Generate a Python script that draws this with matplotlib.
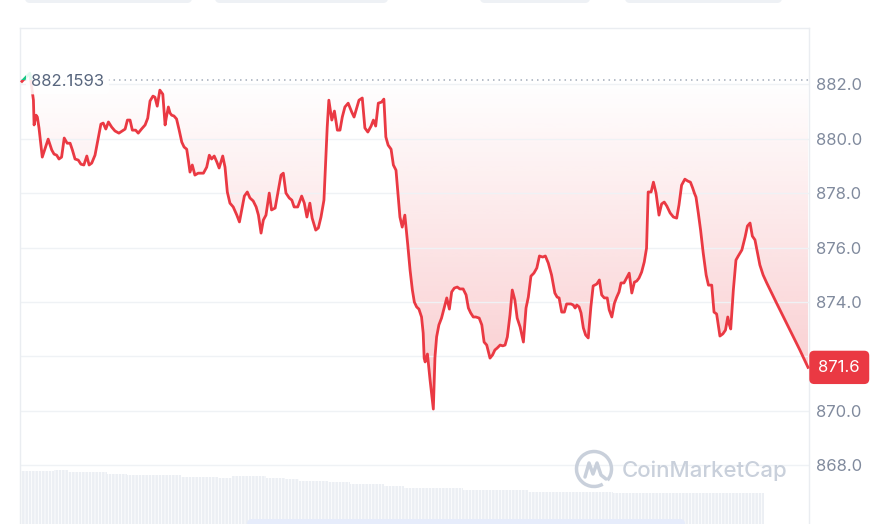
import numpy as np
import matplotlib.pyplot as plt
from matplotlib.colors import to_rgb
from matplotlib.patches import FancyBboxPatch, Rectangle, Arc, Polygon
from matplotlib.transforms import IdentityTransform

plt.rcParams['font.family'] = ['Inter', 'DejaVu Sans']

# price trace over the day (hours since open)
hours = [0.00, 0.24, 0.35, 0.37, 0.43, 0.47, 0.52, 0.62, 0.72, 0.80,
         0.91, 0.98, 1.06, 1.13, 1.21, 1.29, 1.38, 1.47, 1.54, 1.62,
         1.72, 1.80, 1.89, 1.98, 2.05, 2.13, 2.23, 2.33, 2.41, 2.48,
         2.56, 2.64, 2.74, 2.84, 2.96, 3.06, 3.15, 3.22, 3.30, 3.37,
         3.47, 3.55, 3.65, 3.76, 3.84, 3.91, 4.00, 4.06, 4.13, 4.21,
         4.30, 4.37, 4.41, 4.47, 4.52, 4.57, 4.64, 4.72, 4.80, 4.88,
         4.95, 5.03, 5.08, 5.13, 5.20, 5.28, 5.38, 5.54, 5.64, 5.72,
         5.79, 5.87, 5.95, 6.02, 6.13, 6.20, 6.27, 6.35, 6.45, 6.56,
         6.64, 6.71, 6.79, 6.88, 6.96, 7.06, 7.15, 7.22, 7.30, 7.37,
         7.45, 7.55, 7.62, 7.73, 7.83, 7.91, 7.98, 8.06, 8.16, 8.24,
         8.31, 8.42, 8.54, 8.62, 8.70, 8.79, 8.86, 8.97, 9.05, 9.13,
         9.22, 9.27, 9.32, 9.37, 9.46, 9.54, 9.63, 9.71, 9.78, 9.86,
         9.96, 10.07, 10.14, 10.22, 10.29, 10.39, 10.47, 10.56, 10.66, 10.73,
         10.80, 10.88, 10.98, 11.05, 11.11, 11.18, 11.27, 11.34, 11.42, 11.47,
         11.54, 11.61, 11.69, 11.78, 11.85, 11.92, 11.98, 12.05, 12.12, 12.20,
         12.25, 12.28, 12.31, 12.38, 12.46, 12.56, 12.61, 12.66, 12.73, 12.81,
         12.89, 12.97, 13.05, 13.12, 13.20, 13.29, 13.37, 13.47, 13.56, 13.63,
         13.70, 13.78, 13.86, 13.96, 14.04, 14.11, 14.19, 14.29, 14.37, 14.44,
         14.51, 14.60, 14.68, 14.75, 14.82, 14.90, 14.97, 15.05, 15.12, 15.21,
         15.31, 15.39, 15.46, 15.54, 15.63, 15.72, 15.80, 15.90, 15.98, 16.07,
         16.17, 16.27, 16.34, 16.40, 16.48, 16.56, 16.63, 16.76, 16.83, 16.89,
         16.94, 17.01, 17.07, 17.14, 17.21, 17.29, 17.37, 17.44, 17.55, 17.63,
         17.70, 17.78, 17.87, 17.93, 18.01, 18.09, 18.16, 18.23, 18.29, 18.38,
         18.46, 18.54, 18.62, 18.70, 18.77, 18.84, 18.92, 19.00, 19.07, 19.12,
         19.21, 19.28, 19.36, 19.45, 19.53, 19.61, 19.69, 19.79, 19.89, 19.99,
         20.06, 20.14, 20.24, 20.33, 20.41, 20.48, 20.53, 20.58, 20.65, 20.72,
         20.80, 20.89, 20.96, 21.06, 21.13, 21.21, 21.26, 21.31, 21.40, 21.48,
         21.55, 21.60, 21.64, 21.72, 21.80, 21.87, 21.98, 22.08, 22.15, 22.23,
         22.30, 22.38, 22.46, 22.53, 22.63, 22.74, 23.04, 23.45, 23.75, 24.00]
price = [882.10, 882.40, 881.41, 880.50, 880.86, 880.79, 880.39, 879.32, 879.69, 879.98,
         879.58, 879.43, 879.39, 879.25, 879.32, 880.02, 879.83, 879.83, 879.58, 879.25,
         879.21, 879.06, 879.03, 879.36, 879.03, 879.10, 879.39, 880.02, 880.53, 880.57,
         880.35, 880.61, 880.42, 880.28, 880.20, 880.28, 880.35, 880.68, 880.68, 880.31,
         880.31, 880.20, 880.35, 880.50, 880.75, 881.38, 881.56, 881.52, 881.19, 881.78,
         881.63, 880.50, 880.79, 881.16, 880.94, 880.86, 880.83, 880.72, 880.31, 879.87,
         879.69, 879.61, 879.21, 878.77, 879.03, 878.66, 878.73, 878.73, 878.95, 879.39,
         879.25, 879.36, 879.14, 878.92, 879.36, 878.95, 878.04, 877.63, 877.49, 877.19,
         876.94, 877.38, 877.89, 878.04, 877.82, 877.71, 877.49, 877.19, 876.53, 877.01,
         877.19, 878.00, 877.38, 877.45, 878.11, 878.66, 878.73, 878.00, 877.82, 877.74,
         877.49, 877.49, 877.89, 877.63, 877.12, 877.63, 877.08, 876.64, 876.72, 877.12,
         877.74, 879.10, 880.42, 881.41, 880.68, 881.01, 880.31, 880.31, 880.79, 881.16,
         881.30, 880.97, 880.79, 881.12, 881.41, 881.49, 880.39, 880.24, 880.46, 880.68,
         880.46, 881.30, 881.34, 881.45, 880.06, 879.76, 879.61, 879.03, 878.84, 878.11,
         877.12, 876.75, 877.19, 876.09, 875.17, 874.44, 874.00, 873.82, 873.74, 873.45,
         872.86, 871.94, 871.80, 872.09, 871.14, 870.07, 871.98, 872.72, 873.16, 873.41,
         873.78, 874.15, 873.74, 874.37, 874.51, 874.55, 874.48, 874.48, 874.26, 873.78,
         873.60, 873.45, 873.45, 873.41, 873.16, 872.53, 872.42, 871.94, 872.06, 872.24,
         872.31, 872.42, 872.39, 872.42, 872.72, 873.52, 874.44, 874.07, 873.41, 873.08,
         872.53, 873.78, 874.18, 874.95, 875.06, 875.25, 875.69, 875.65, 875.69, 875.43,
         874.99, 874.33, 874.18, 874.15, 873.63, 873.63, 873.93, 873.93, 873.89, 873.78,
         873.89, 873.82, 873.60, 873.05, 872.79, 872.68, 873.82, 874.59, 874.66, 874.81,
         874.26, 874.15, 874.15, 873.71, 873.45, 873.96, 874.18, 874.37, 874.70, 874.70,
         874.88, 875.06, 874.33, 874.73, 874.77, 874.88, 875.10, 875.47, 875.98, 878.04,
         878.04, 878.40, 878.00, 877.19, 877.60, 877.67, 877.52, 877.27, 877.12, 877.08,
         877.56, 878.29, 878.51, 878.44, 878.40, 878.18, 878.00, 877.85, 877.27, 876.64,
         875.80, 874.99, 874.62, 874.62, 873.63, 873.56, 873.16, 872.75, 872.83, 872.97,
         873.45, 873.16, 873.01, 874.44, 875.54, 875.69, 875.91, 876.39, 876.79, 876.90,
         876.42, 876.28, 875.80, 875.36, 874.99, 874.70, 873.96, 872.97, 872.24, 871.60]
assert len(hours) == len(price)

open_price = 882.1593
last_price = 871.6
y_ticks = [868, 870, 872, 874, 876, 878, 880, 882]
hidden_tick = 872  # sits under the last-price tag

# volume (relative), one value per block of bars
vol_edges = [-0.06, 0.98, 1.40, 2.60, 3.21, 4.86, 5.98, 6.41, 7.45, 8.03,
             8.46, 9.34, 10.02, 11.05, 11.66, 13.47, 15.45, 18.05, 22.66]
vol_values = [82.4, 84.0, 81.4, 78.7, 76.1, 73.4, 71.8, 74.5, 71.8,
              69.7, 67.1, 65.5, 61.8, 59.1, 55.9, 53.3, 50.6, 48.0]

RED = "#ea3943"
GREEN = "#16c784"
GRID = "#eff2f5"
LABEL = "#808a9d"

W, H = 884, 524
fig = plt.figure(figsize=(W / 100, H / 100), dpi=100)


def px_rect(x0, y0, x1, y1):
    return [x0 / W, 1 - y1 / H, (x1 - x0) / W, (y1 - y0) / H]


# volume strip at the bottom
axv = fig.add_axes(px_rect(20, 460, 809, 524))
plt.rcParams['hatch.linewidth'] = 0.6
axv.bar(vol_edges[:-1], vol_values, width=np.diff(vol_edges), align="edge",
        color="#eceff4", edgecolor="white", linewidth=0, hatch="|||||")
axv.set_xlim(-0.06, 24.03)
axv.set_ylim(0, 100)
axv.axis("off")

# price axes
ax = fig.add_axes(px_rect(20, 28, 809, 524))
ax.set_facecolor("none")

t = np.array(hours)
p = np.array(price)

# pink gradient between the line and the open price
verts = np.vstack([np.column_stack([t, p]),
                   np.column_stack([t[::-1], np.full(len(t), open_price)])])
clip = Polygon(verts, closed=True, transform=ax.transData, fc="none", ec="none")
n = 256
rgba = np.zeros((n, 1, 4))
rgba[..., :3] = to_rgb(RED)
rgba[:, 0, 3] = np.linspace(0.27, 0.0, n)
im = ax.imshow(rgba, extent=[0, 24, 870, open_price], origin="lower",
               aspect="auto", zorder=1, interpolation="bilinear")
im.set_clip_path(clip)

ax.axhline(open_price, color="#a3acbb", lw=1.1, ls=(0, (1, 2.6)), zorder=2)

above = Rectangle((-1, open_price), 30, 10, transform=ax.transData)
below = Rectangle((-1, open_price - 30), 30, 30, transform=ax.transData)
ln_r, = ax.plot(t, p, color=RED, lw=2.0, zorder=3, solid_joinstyle="round")
ln_g, = ax.plot(t, p, color=GREEN, lw=2.0, zorder=3, solid_joinstyle="round")
ln_r.set_clip_path(below)
ln_g.set_clip_path(above)

ax.set_xlim(-0.06, 24.03)
ax.set_ylim(865.85, 884.06)
ax.set_yticks(y_ticks)
ax.set_yticklabels(["" if v == hidden_tick else f"{v:.1f}" for v in y_ticks])
ax.yaxis.tick_right()
ax.tick_params(axis="y", length=0, pad=5, labelcolor=LABEL, labelsize=12)
ax.set_xticks([])
ax.grid(axis="y", color=GRID, lw=1, zorder=0)
for side in ["top", "left", "right"]:
    ax.spines[side].set_color("#eaedf1")
    ax.spines[side].set_linewidth(1)
ax.spines["bottom"].set_visible(False)

# open price label
ax.annotate("882.1593", xy=(0, open_price), xytext=(6.5, -1.5),
            textcoords="offset points", va="center", ha="left",
            color="#58667e", fontsize=12, zorder=5,
            bbox=dict(boxstyle="round,pad=0.3", fc="white", ec="none", alpha=0.88))

# last price tag
ax.annotate(f"{last_price:.1f}", xy=(1, last_price),
            xycoords=("axes fraction", "data"), xytext=(6.8, 0),
            textcoords="offset points", va="center", ha="left",
            color="white", fontsize=12, annotation_clip=False, zorder=6,
            bbox=dict(boxstyle="round,pad=0.55,rounding_size=0.3", fc=RED, ec="none"))

# watermark
wm = "#c9d0db"
fig.text(622 / W, 1 - 471 / H, "CoinMarketCap", color=wm, fontsize=16,
         fontweight="medium", va="center", ha="left")
cx, cy = 594, H - 469
fig.add_artist(Arc((cx, cy), 35, 35, theta1=-40, theta2=300, lw=2.5,
                   color=wm, transform=IdentityTransform()))
fig.add_artist(plt.Line2D([cx - 9, cx - 5, cx - 1, cx + 3, cx + 7, cx + 12],
                          [cy - 8, cy + 6, cy - 5, cy + 6, cy - 6, cy - 10],
                          lw=2.5, color=wm, solid_joinstyle="round",
                          solid_capstyle="round", transform=IdentityTransform()))

# slivers of the controls above and below the chart
for x0, x1 in [(25, 192), (215, 388), (480, 590), (625, 782)]:
    fig.add_artist(FancyBboxPatch((x0, H - 3), x1 - x0, 10,
                                  boxstyle="round,pad=0,rounding_size=5",
                                  fc="#eef1f5", ec="none", transform=IdentityTransform()))
fig.add_artist(FancyBboxPatch((247, -6), 438, 11,
                              boxstyle="round,pad=0,rounding_size=5",
                              fc="#e6ecfb", ec="none", transform=IdentityTransform()))

fig.savefig("out.png", dpi=100)
